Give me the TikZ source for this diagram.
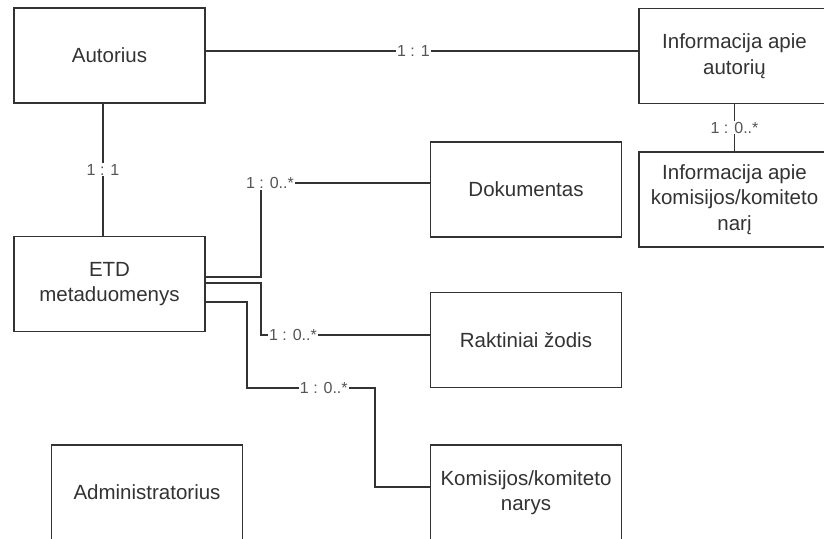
\documentclass[tikz,border=0pt]{standalone}
\usepackage{fontspec}
\setmainfont{Liberation Sans}
\definecolor{linec}{HTML}{333333}
\definecolor{textc}{HTML}{333333}
\definecolor{lblc}{HTML}{555555}
\begin{document}
\begin{tikzpicture}[x=1pt,y=-1pt,
  entity/.style={draw=linec, line width=1.8pt, fill=white,
    minimum width=191pt, minimum height=95pt, inner sep=0pt,
    align=center, text=textc, font=\fontsize{20.5}{25.5}\selectfont},
  conn/.style={draw=linec, line width=1.6pt},
  lbl/.style={fill=white, inner sep=1pt, text=lblc,
    font=\fontsize{16}{18}\selectfont}]
\useasboundingbox (0,0) rectangle (824,538);
\fill[white] (0,0) rectangle (824,538);
\clip (0,0) rectangle (824,538);

% entities
\node[entity] (aut)     at (109.5,55.5)  {Autorius};
\node[entity] (info)    at (734.5,56)    {Informacija apie\\autorių};
\node[entity] (kominfo) at (734.5,199.5) {Informacija apie\\komisijos/komiteto\\narį};
\node[entity] (dok)     at (526,189.5)   {Dokumentas};
\node[entity] (etd)     at (109.5,284)   {ETD\\metaduomenys};
\node[entity] (rak)     at (526,340)     {Raktiniai žodis};
\node[entity] (kom)     at (526,492.5)   {Komisijos/komiteto\\narys};
\node[entity] (adm)     at (147,492.5)   {Administratorius};

% relations
\draw[conn] ([yshift=4.5pt]aut.east) -- node[lbl, pos=0.48] {1 : 1} ([yshift=5pt]info.west);
\draw[conn] ([xshift=-6.5pt]aut.south) -- node[lbl] {1 : 1} ([xshift=-6.5pt]etd.north);
\draw[conn] (info.south) -- node[lbl] {1 : 0..*} (kominfo.north);
\draw[conn] ([yshift=7pt]etd.east) -- (261,277)
  |- node[lbl, pos=0.5, xshift=9pt] {1 : 0..*} ([yshift=6.5pt]dok.west);
\draw[conn] ([yshift=1pt]etd.east) -- (261,283)
  |- node[lbl, pos=0.5, xshift=32pt] {1 : 0..*} ([yshift=5pt]rak.west);
\draw[conn] ([yshift=-18pt]etd.east) -| (247,388)
  -- node[lbl, pos=0.6] {1 : 0..*} (375,388)
  |- ([yshift=5.5pt]kom.west);
\end{tikzpicture}
\end{document}
